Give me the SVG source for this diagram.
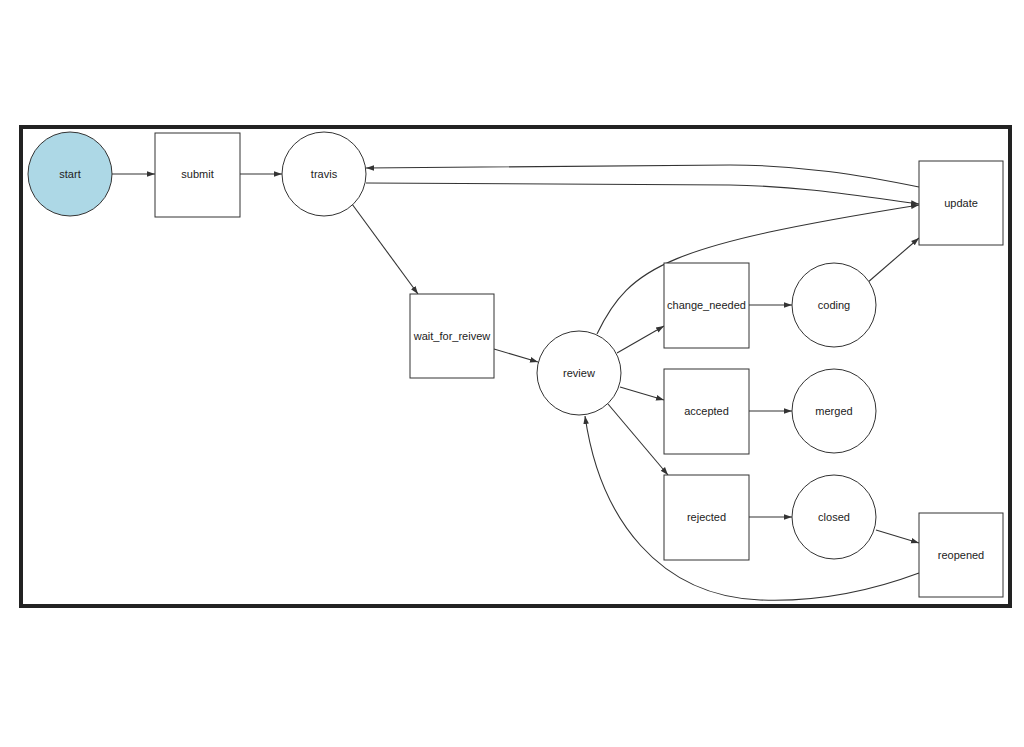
<svg xmlns="http://www.w3.org/2000/svg" width="1024" height="747" viewBox="0 0 1024 747">
<style>
.n{fill:#fff;stroke:#333;stroke-width:1}
.t{font-family:"Liberation Sans",Arial,sans-serif;font-size:11px;fill:#222;text-anchor:middle;dominant-baseline:central}
.e{fill:none;stroke:#333;stroke-width:1.1}
</style>
<defs>
<marker id="a" viewBox="0 0 10 10" refX="10" refY="5" markerWidth="8" markerHeight="8" markerUnits="userSpaceOnUse" orient="auto">
<path d="M0,1.5 L10,5 L0,8.5 Z" fill="#333"/>
</marker>
</defs>
<rect width="1024" height="747" fill="#fff"/>
<rect x="21" y="127" width="989" height="479" fill="#fff" stroke="#222" stroke-width="4"/>
<g id="edges">
<path class="e" marker-end="url(#a)" d="M112,174 L155,174"/>
<path class="e" marker-end="url(#a)" d="M240,174 L282,174"/>
<path class="e" marker-end="url(#a)" d="M352,204 L418,294"/>
<path class="e" marker-end="url(#a)" d="M494,349 L538,362"/>
<path class="e" marker-end="url(#a)" d="M617,353 L664,326"/>
<path class="e" marker-end="url(#a)" d="M620,387 L664,400"/>
<path class="e" marker-end="url(#a)" d="M608,404 L668,475"/>
<path class="e" marker-end="url(#a)" d="M749,305 L792,305"/>
<path class="e" marker-end="url(#a)" d="M749,411 L792,411"/>
<path class="e" marker-end="url(#a)" d="M749,517 L792,517"/>
<path class="e" marker-end="url(#a)" d="M867,283 L919,238"/>
<path class="e" marker-end="url(#a)" d="M876,530 L919,543"/>
<path class="e" marker-end="url(#a)" d="M919,187 C860,175 800,165 730,165 L366,168"/>
<path class="e" marker-end="url(#a)" d="M366,183 L730,185 C800,186 860,196 919,204"/>
<path class="e" marker-end="url(#a)" d="M597,334 C630,265 670,245 919,205"/>
<path class="e" marker-end="url(#a)" d="M919,573 C860,595 810,602 760,600 C660,596 600,520 585,416"/>
</g>
<g id="start"><circle cx="70" cy="174" r="42" fill="#add8e6" stroke="#333"/><text class="t" x="70" y="174">start</text></g>
<g id="submit"><rect class="n" x="155" y="133" width="85" height="84"/><text class="t" x="197.5" y="174">submit</text></g>
<g id="travis"><circle class="n" cx="324" cy="174" r="42"/><text class="t" x="324" y="174">travis</text></g>
<g id="update"><rect class="n" x="919" y="161" width="84" height="84"/><text class="t" x="961" y="203">update</text></g>
<g id="wait_for_reivew"><rect class="n" x="410" y="294" width="84" height="84"/><text class="t" x="452" y="336">wait_for_reivew</text></g>
<g id="review"><circle class="n" cx="579" cy="373" r="42"/><text class="t" x="579" y="373">review</text></g>
<g id="change_needed"><rect class="n" x="664" y="263" width="85" height="85"/><text class="t" x="706.5" y="305">change_needed</text></g>
<g id="coding"><circle class="n" cx="834" cy="305" r="42"/><text class="t" x="834" y="305">coding</text></g>
<g id="accepted"><rect class="n" x="664" y="369" width="85" height="85"/><text class="t" x="706.5" y="411">accepted</text></g>
<g id="merged"><circle class="n" cx="834" cy="411" r="42"/><text class="t" x="834" y="411">merged</text></g>
<g id="rejected"><rect class="n" x="664" y="475" width="85" height="85"/><text class="t" x="706.5" y="517">rejected</text></g>
<g id="closed"><circle class="n" cx="834" cy="517" r="42"/><text class="t" x="834" y="517">closed</text></g>
<g id="reopened"><rect class="n" x="919" y="513" width="84" height="84"/><text class="t" x="961" y="555">reopened</text></g>
</svg>
